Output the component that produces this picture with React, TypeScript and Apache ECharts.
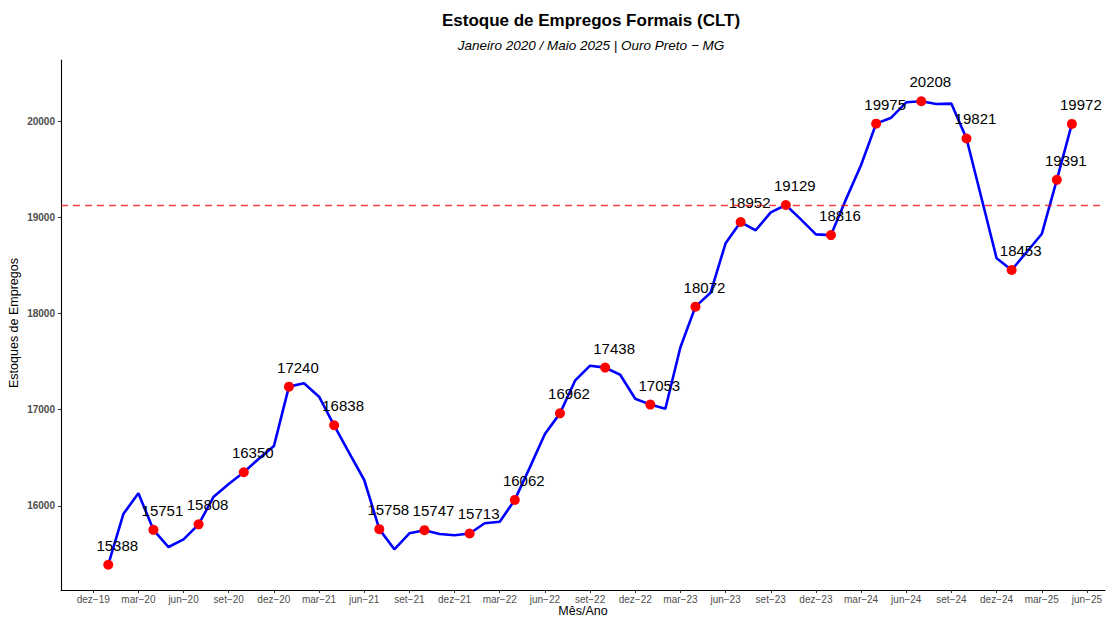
import React, { useEffect, useRef } from "react";
import * as echarts from "echarts";

// Monthly stock of formal jobs, jan-20 (month 1) .. mai-25 (month 65)
const estoque: number[] = [
  15388, 15915, 16131, 15751, 15572, 15652, 15808, 16095, 16227, 16350, 16490, 16622,
  17240, 17275, 17135, 16838, 16550, 16269, 15758, 15548, 15715, 15747, 15707, 15694,
  15713, 15819, 15835, 16062, 16400, 16747, 16962, 17302, 17458, 17438, 17364, 17114,
  17053, 17010, 17650, 18072, 18216, 18731, 18952, 18866, 19053, 19129, 18980, 18824,
  18816, 19190, 19545, 19975, 20037, 20197, 20208, 20179, 20183, 19821, 19199, 18575,
  18453, 18640, 18827, 19391, 19972,
];
// months (1 = jan-20) that receive a red marker and label
const mesesDestaque: number[] = [1, 4, 7, 10, 13, 16, 19, 22, 25, 28, 31, 34, 37, 40, 43, 46, 49, 52, 55, 58, 61, 64, 65];
const linhaReferencia = 19125;

const xTickValues: number[] = [0, 3, 6, 9, 12, 15, 18, 21, 24, 27, 30, 33, 36, 39, 42, 45, 48, 51, 54, 57, 60, 63, 66];
const xTickLabels: string[] = [
  "dez−19", "mar−20", "jun−20", "set−20", "dez−20", "mar−21", "jun−21", "set−21",
  "dez−21", "mar−22", "jun−22", "set−22", "dez−22", "mar−23", "jun−23", "set−23",
  "dez−23", "mar−24", "jun−24", "set−24", "dez−24", "mar−25", "jun−25",
];
const yTickValues: number[] = [16000, 17000, 18000, 19000, 20000];

const titulo = "Estoque de Empregos Formais (CLT)";
const subtitulo = "Janeiro 2020 / Maio 2025 | Ouro Preto − MG";
const tituloX = "Mês/Ano";
const tituloY = "Estoques de Empregos";

const FONT = "Liberation Sans, Arial, Helvetica, sans-serif";

export default function App() {
  const ref = useRef<HTMLDivElement>(null);
  useEffect(() => {
    if (!ref.current) return;
    const chart = echarts.init(ref.current, undefined, { renderer: "svg" });
    const lineData = estoque.map((v, i) => [i + 1, v]);
    const pointData = mesesDestaque.map((m) => [m, estoque[m - 1]]);
    chart.setOption({
      animation: false,
      backgroundColor: "#ffffff",
      textStyle: { fontFamily: FONT },
      grid: { left: 61, right: 2, top: 60, bottom: 28, containLabel: false },
      xAxis: {
        type: "value",
        min: -2.14,
        max: 67.2,
        axisLine: { show: true, onZero: false, lineStyle: { color: "#000", width: 1.1 } },
        axisTick: {
          show: true,
          length: 3,
          lineStyle: { color: "#333" },
          customValues: xTickValues,
        },
        axisLabel: {
          customValues: xTickValues,
          formatter: (v: number) => {
            const idx = xTickValues.indexOf(Math.round(v));
            return idx >= 0 ? xTickLabels[idx] : "";
          },
          color: "#4d4d4d",
          fontSize: 10,
          fontFamily: FONT,
          margin: 4,
        },
        splitLine: { show: false },
      },
      yAxis: {
        type: "value",
        min: 15125,
        max: 20637,
        axisLine: { show: true, onZero: false, lineStyle: { color: "#000", width: 1.1 } },
        axisTick: {
          show: true,
          length: 3,
          lineStyle: { color: "#333" },
          customValues: yTickValues,
        },
        axisLabel: {
          customValues: yTickValues,
          formatter: (v: number) => String(v),
          color: "#4d4d4d",
          fontSize: 10,
          fontWeight: "bold",
          fontFamily: FONT,
          margin: 6,
        },
        splitLine: { show: false },
      },
      graphic: [
        {
          type: "text",
          x: 591,
          y: 20,
          style: {
            text: titulo,
            fontSize: 17,
            fontWeight: "bold",
            fontFamily: FONT,
            fill: "#000",
            textAlign: "center",
            textVerticalAlign: "middle",
          },
        },
        {
          type: "text",
          x: 591,
          y: 45,
          style: {
            text: subtitulo,
            fontSize: 13.5,
            fontStyle: "italic",
            fontFamily: FONT,
            fill: "#000",
            textAlign: "center",
            textVerticalAlign: "middle",
          },
        },
        {
          type: "text",
          x: 583,
          y: 611,
          style: {
            text: tituloX,
            fontSize: 12.5,
            fontFamily: FONT,
            fill: "#000",
            textAlign: "center",
            textVerticalAlign: "middle",
          },
        },
        {
          type: "text",
          x: 14,
          y: 323,
          rotation: Math.PI / 2,
          style: {
            text: tituloY,
            fontSize: 12.5,
            fontFamily: FONT,
            fill: "#000",
            textAlign: "center",
            textVerticalAlign: "middle",
          },
        },
      ],
      series: [
        {
          type: "line",
          data: lineData,
          symbol: "none",
          lineStyle: { color: "#0000ff", width: 2.6 },
          z: 2,
          markLine: {
            silent: true,
            symbol: "none",
            label: { show: false },
            lineStyle: { color: "rgba(255,0,0,0.75)", width: 1.4, type: [7, 5] },
            data: [{ yAxis: linhaReferencia }],
          },
        },
        {
          type: "scatter",
          data: pointData,
          symbol: "circle",
          symbolSize: 10,
          itemStyle: { color: "#ff0000", opacity: 1 },
          z: 3,
          label: {
            show: true,
            position: "top",
            distance: 7,
            offset: [9, 0],
            formatter: (p: any) => String(p.value[1]),
            color: "#000",
            fontSize: 15,
            fontFamily: FONT,
          },
        },
      ],
    });
    return () => chart.dispose();
  }, []);
  return (
    <div
      ref={ref}
      style={{ position: "absolute", left: 0, top: 0, width: 1107, height: 618 }}
    />
  );
}
